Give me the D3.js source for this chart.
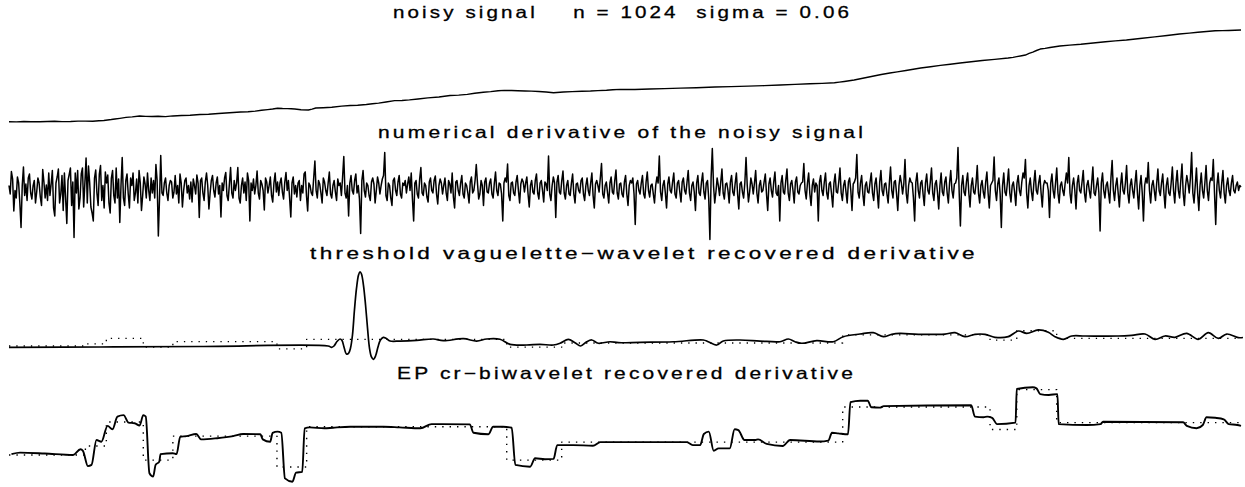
<!DOCTYPE html>
<html><head><meta charset="utf-8">
<script src="https://cdn.jsdelivr.net/npm/d3@7"></script>
<style>body{margin:0;background:#fff}svg{display:block}</style>
</head><body>
<svg id="c" width="1245" height="487"></svg>
<script>
// ---------- data ----------
const titles = [
  "noisy signal    n = 1024  sigma = 0.06",
  "numerical derivative of the noisy signal",
  "threshold vaguelette\u2212wavelet recovered derivative",
  "EP cr\u2212biwavelet recovered derivative"
];

// panel 1: noisy signal (t in [0,1])
const signalT = [0,0.006,0.012,0.018,0.025,0.031,0.037,0.043,0.05,0.056,0.062,0.068,0.073,0.077,0.08,0.083,0.086,0.09,0.095,0.1,0.106,0.111,0.116,0.121,0.127,0.133,0.14,0.147,0.155,0.162,0.17,0.179,0.188,0.194,0.2,0.205,0.21,0.214,0.218,0.222,0.226,0.229,0.232,0.237,0.243,0.246,0.249,0.255,0.262,0.27,0.277,0.283,0.29,0.295,0.3,0.306,0.313,0.319,0.325,0.332,0.34,0.349,0.358,0.365,0.372,0.378,0.385,0.391,0.397,0.402,0.408,0.413,0.419,0.424,0.43,0.436,0.442,0.45,0.457,0.465,0.472,0.478,0.485,0.49,0.496,0.508,0.52,0.532,0.545,0.558,0.573,0.586,0.6,0.613,0.626,0.638,0.65,0.66,0.67,0.674,0.678,0.682,0.686,0.693,0.7,0.708,0.715,0.721,0.728,0.734,0.74,0.748,0.756,0.764,0.772,0.781,0.79,0.8,0.811,0.815,0.818,0.822,0.825,0.828,0.831,0.834,0.837,0.841,0.845,0.849,0.853,0.861,0.87,0.88,0.89,0.898,0.907,0.918,0.93,0.94,0.95,0.958,0.965,0.972,0.979,0.985,0.99,0.995,1.0];
const signalV = [0.003,0.001,0.006,0.003,0.002,0.006,0.008,0.004,0.005,0.009,0.01,0.008,0.014,0.017,0.022,0.027,0.033,0.04,0.05,0.056,0.065,0.061,0.06,0.063,0.058,0.066,0.07,0.074,0.082,0.085,0.092,0.1,0.109,0.112,0.118,0.128,0.135,0.141,0.149,0.146,0.145,0.144,0.141,0.133,0.13,0.14,0.152,0.155,0.16,0.172,0.179,0.182,0.19,0.198,0.205,0.217,0.232,0.234,0.24,0.25,0.262,0.272,0.288,0.292,0.3,0.312,0.323,0.33,0.34,0.344,0.342,0.339,0.337,0.336,0.332,0.326,0.318,0.326,0.33,0.335,0.337,0.341,0.345,0.35,0.355,0.353,0.358,0.363,0.368,0.372,0.38,0.384,0.39,0.395,0.402,0.409,0.415,0.42,0.427,0.433,0.44,0.448,0.457,0.476,0.495,0.516,0.533,0.545,0.56,0.574,0.587,0.6,0.615,0.628,0.641,0.655,0.668,0.681,0.696,0.703,0.71,0.72,0.728,0.745,0.76,0.777,0.793,0.8,0.81,0.818,0.826,0.836,0.845,0.858,0.872,0.882,0.891,0.908,0.925,0.94,0.957,0.966,0.975,0.983,0.992,0.993,0.995,0.998,1.0];

// panel 2: numerical derivative of the noisy signal (1024 equally spaced samples)
const derivNoisy = [
0.05,-0.12,0.33,0.18,-0.46,-0.05,-0.2,0.22,0.1,-0.3,-0.79,0.05,0.42,-0.15,0.08,-0.25,0.2,0.28,-0.1,-0.22,0.04,0.15,-0.3,-0.08,0.2,0.1,-0.18,-0.35,0.37,0.12,-0.2,0.06,
-0.25,0.3,-0.15,0.08,0.35,-0.4,-0.56,0.1,0.22,0.38,-0.3,-0.12,0.25,-0.45,0.3,-0.2,-0.71,0.15,0.27,0.4,-0.35,0.12,-0.99,0.3,-0.1,0.35,-0.42,-0.2,0.28,0.4,-0.38,0.1,
0.6,-0.3,0.44,0.1,-0.38,-0.5,-0.66,0.2,0.36,-0.1,-0.35,0.28,0.45,-0.25,0.05,-0.4,0.32,0.1,0.26,-0.3,-0.5,0.2,0.35,-0.15,-0.3,0.4,-0.2,0.18,-0.69,0.05,0.61,-0.2,
-0.35,0.15,0.28,-0.12,-0.4,0.2,0.05,0.3,-0.25,-0.1,0.18,-0.3,0.35,0.1,-0.45,-0.15,0.22,0.08,-0.2,0.3,-0.05,-0.25,0.2,-0.1,0.15,-0.2,0.47,0.15,-0.96,-0.2,0.65,-0.1,
-0.15,0.1,0.2,-0.1,-0.25,0.05,0.15,0.12,-0.2,-0.08,0.25,-0.12,0.05,-0.3,0.28,0.1,-0.38,-0.05,0.15,0.2,-0.1,0.05,-0.22,0.12,-0.28,0.18,0.05,-0.12,0.26,0.1,-0.59,0.15,
0.2,-0.1,-0.25,0.12,0.3,0.05,-0.42,-0.1,0.15,0.25,-0.05,-0.18,0.1,0.22,-0.12,0.05,-0.58,0.1,-0.05,0.2,0.31,-0.15,-0.25,0.08,0.41,-0.1,-0.2,0.15,-0.05,0.1,0.41,-0.2,
-0.3,0.05,0.2,-0.1,0.12,-0.25,0.3,0.15,-0.66,0.1,-0.05,0.18,-0.12,0.05,0.34,-0.1,-0.22,0.15,0.08,-0.05,-0.44,0.2,0.12,-0.1,0.05,0.22,-0.15,-0.28,0.1,0.3,-0.08,0.12,
-0.15,0.1,0.2,-0.08,-0.22,0.12,0.31,-0.05,0.15,-0.2,-0.58,0.1,0.22,-0.12,0.05,-0.18,0.1,0.15,-0.25,0.05,-0.1,0.28,0.32,-0.15,-0.46,0.1,0.05,-0.1,-0.15,0.2,0.54,-0.05,
-0.2,0.15,0.08,-0.1,-0.3,0.2,0.12,-0.05,-0.15,0.1,0.32,-0.12,-0.2,0.05,0.15,-0.08,-0.25,0.18,0.05,0.1,-0.15,0.22,0.63,-0.1,-0.2,0.05,-0.56,0.1,0.25,-0.05,-0.12,0.15,
0.28,-0.1,0.05,-0.22,-0.91,0.15,0.35,-0.05,-0.18,0.1,0.05,-0.15,-0.25,0.12,0.2,0.08,-0.3,-0.05,0.22,0.1,-0.12,0.05,0.18,0.25,0.71,-0.15,-0.25,0.1,0.05,-0.2,-0.35,0.15,
0.2,-0.05,-0.15,0.12,0.25,-0.12,-0.2,0.1,0.05,0.15,-0.1,0.08,0.22,-0.05,0.3,-0.22,-0.66,0.1,0.15,-0.12,-0.2,0.18,0.41,-0.1,-0.15,0.1,0.05,-0.18,-0.28,0.12,0.2,-0.05,
-0.1,0.15,0.24,-0.12,-0.32,0.05,0.18,0.1,-0.12,0.05,0.2,-0.1,-0.25,0.15,0.08,-0.1,0.3,-0.18,-0.4,0.12,0.15,-0.05,-0.15,0.1,0.25,-0.12,-0.2,0.1,0.05,-0.1,-0.3,0.12,
0.22,-0.1,-0.05,0.15,0.47,0.1,-0.22,-0.12,0.15,0.05,-0.35,0.12,0.2,-0.08,-0.1,0.1,0.18,-0.12,-0.2,0.1,0.32,-0.05,-0.15,0.1,0.08,-0.12,-0.66,0.1,0.2,0.12,0.48,-0.15,
-0.25,0.1,0.12,-0.1,-0.15,0.12,0.25,-0.05,-0.3,0.08,0.18,0.12,-0.08,0.1,0.22,-0.12,-0.38,0.05,0.15,-0.08,-0.12,0.15,0.28,-0.1,-0.22,0.1,0.15,-0.05,-0.28,0.12,0.08,-0.05,
0.64,-0.12,-0.25,0.05,0.22,0.1,-0.59,0.12,0.25,-0.08,-0.12,0.15,0.34,-0.1,-0.22,0.05,0.15,-0.12,-0.15,0.1,0.28,-0.12,-0.3,0.08,0.1,-0.05,-0.1,0.15,0.2,-0.12,-0.25,0.05,
0.2,-0.05,-0.15,0.1,0.3,-0.15,-0.4,0.08,0.15,0.05,-0.08,0.2,0.49,-0.12,-0.2,0.05,0.12,-0.1,-0.3,0.1,0.22,-0.08,-0.12,0.15,0.36,-0.1,-0.22,0.08,0.1,-0.12,-0.18,0.12,
0.25,-0.12,-0.35,0.05,0.15,0.1,0.2,-0.12,-0.73,0.08,0.15,-0.05,-0.12,0.1,0.25,-0.12,-0.2,0.12,0.32,-0.05,-0.18,0.05,0.08,-0.12,-0.3,0.05,0.22,0.1,0.64,-0.08,-0.25,0.05,
0.15,-0.1,-0.4,0.08,0.22,-0.05,-0.1,0.12,0.3,-0.12,-0.2,0.1,0.15,-0.08,-0.28,0.12,0.2,-0.05,-0.12,0.12,0.35,-0.1,-0.25,0.05,0.12,-0.08,-0.45,0.1,0.25,-0.1,-0.15,0.12,
0.3,-0.08,-0.22,0.1,0.15,-0.2,-1.03,0.2,0.79,0.05,-0.3,-0.08,0.2,0.05,-0.15,0.12,0.38,-0.1,-0.22,0.08,0.1,-0.05,-0.3,0.12,0.25,-0.08,-0.15,0.1,0.3,-0.12,-0.42,0.08,
0.12,-0.08,-0.2,0.1,0.61,0.05,-0.28,-0.08,0.2,0.08,-0.12,0.1,0.35,-0.1,-0.3,0.05,0.15,-0.08,-0.05,0.12,0.28,-0.12,-0.45,0.08,0.2,-0.05,-0.18,0.12,0.32,-0.1,-0.15,0.05,
-0.66,0.1,0.25,-0.08,-0.12,0.15,0.38,-0.1,-0.25,0.08,0.15,-0.05,-0.3,0.12,0.22,-0.08,-0.12,0.05,0.1,0.12,0.49,-0.05,-0.22,0.1,0.3,-0.12,-0.35,0.05,0.18,-0.08,0.1,0.05,
-0.66,0.12,0.25,-0.05,-0.15,0.12,0.3,-0.1,-0.22,0.08,0.12,-0.12,-0.38,0.1,0.28,-0.08,-0.1,0.12,0.4,-0.1,-0.25,0.05,0.15,-0.08,-0.3,0.12,0.2,-0.05,-0.45,0.08,0.12,0.2,
0.67,-0.08,-0.2,0.1,0.25,-0.12,-0.35,0.05,0.12,-0.08,-0.1,0.12,0.3,-0.1,-0.25,0.08,0.2,-0.1,-0.4,0.12,0.35,-0.05,-0.15,0.08,0.1,-0.12,-0.3,0.1,0.42,-0.05,-0.2,0.12,
0.15,-0.12,-0.45,0.05,0.25,0.1,-0.12,0.08,0.57,-0.1,-0.3,0.05,0.2,0.12,0.1,-0.2,-0.66,0.12,0.3,-0.05,-0.2,0.1,0.15,-0.12,-0.35,0.1,0.28,-0.05,-0.12,0.12,0.4,-0.1,
-0.25,0.08,0.15,-0.1,-0.42,0.05,0.3,-0.08,-0.15,0.12,0.22,-0.1,-0.3,0.1,0.35,-0.05,-0.2,0.08,0.1,0.2,0.81,-0.1,-0.76,0.05,0.25,-0.08,-0.15,0.12,0.3,-0.1,-0.38,0.05,
0.2,-0.08,-0.12,0.1,0.45,-0.1,-0.3,0.05,0.15,-0.08,-0.2,0.12,0.32,-0.1,-0.4,0.05,0.1,0.15,0.62,-0.05,-0.25,0.08,0.2,-0.12,-0.79,0.05,0.3,-0.08,-0.15,0.1,0.38,-0.1,
-0.28,0.05,0.12,-0.08,-0.35,0.1,0.25,-0.05,-0.15,0.12,0.3,0.2,0.57,-0.1,-0.4,0.05,0.2,-0.08,-0.25,0.1,0.35,-0.05,-0.12,0.1,0.25,-0.1,-0.38,0.05,0.15,0.1,0.1,-0.05,
-0.59,0.1,0.28,-0.05,-0.2,0.1,0.4,-0.1,-0.3,0.05,0.12,-0.05,-0.15,0.1,0.3,0.1,0.61,-0.1,-0.3,0.05,0.2,-0.05,-0.42,0.1,0.25,-0.05,-0.1,0.12,0.35,-0.1,-0.28,0.05,
0.15,-0.05,-0.2,0.1,0.42,-0.1,-0.15,0.05,0.2,-0.1,-0.86,0.1,0.3,-0.05,-0.2,0.05,0.12,-0.1,-0.3,0.2,0.55,-0.05,-0.25,0.05,0.2,-0.1,-0.38,0.05,0.3,-0.05,-0.12,0.1,
0.45,-0.1,-0.3,0.05,0.18,-0.05,-0.2,0.1,0.35,-0.1,-0.42,0.05,0.25,-0.1,-0.66,0.05,0.2,0.1,0.51,-0.05,-0.3,0.05,0.15,-0.05,-0.25,0.1,0.38,-0.05,-0.15,0.1,0.28,-0.1,
-0.4,0.05,0.2,-0.1,-0.15,0.1,0.42,-0.05,-0.3,0.1,0.35,-0.05,-0.2,0.15,0.48,-0.1,-0.35,0.05,0.25,0.1,-0.1,0.2,0.71,-0.1,-0.3,0.05,0.4,-0.1,-0.45,0.05,0.3,-0.05,
-0.2,0.1,0.45,-0.05,-0.25,0.1,0.2,0.15,0.57,-0.1,-0.73,0.05,0.3,-0.05,-0.2,0.1,0.35,-0.1,-0.3,0.05,0.2,-0.05,-0.15,0.1,0.25,-0.05,-0.1,0.05,0.12,-0.05,0.05,0.02
];

// panel 3: threshold vaguelette-wavelet recovered derivative
const vagT = [0,0.074,0.155,0.259,0.2619,0.2638,0.2662,0.2687,0.2703,0.2719,0.2739,0.2756,0.2772,0.2788,0.2804,0.2821,0.2837,0.2849,0.2861,0.2877,0.2894,0.291,0.2926,0.2942,0.2957,0.2975,0.2995,0.3015,0.3038,0.306,0.3093,0.3174,0.3309,0.3444,0.3525,0.3688,0.3796,0.3877,0.3985,0.4067,0.4202,0.431,0.4418,0.4473,0.454,0.4594,0.464,0.4689,0.473,0.4783,0.4878,0.4946,0.5122,0.5392,0.5636,0.5676,0.5744,0.5798,0.5933,0.6096,0.6258,0.6326,0.638,0.6434,0.6556,0.6691,0.6772,0.6907,0.7015,0.7097,0.7165,0.7232,0.7381,0.7597,0.7679,0.776,0.7841,0.7922,0.8003,0.8111,0.8193,0.8261,0.8355,0.8436,0.849,0.8558,0.8626,0.8734,0.9004,0.9113,0.9221,0.9302,0.9383,0.9464,0.9559,0.9653,0.9735,0.9816,0.9884,0.9978,1.0016];
const vagV = [-0.21,-0.14,-0.07,0,-0.19,0,0.64,1.0,0.79,-0.14,-1.14,-1.07,-0.29,1.57,5.14,8.29,10.14,10.61,10.29,8.71,5.86,2.57,-0.29,-1.57,-1.9,-1.43,-0.14,0.86,1.24,1.11,0.71,0.71,0.81,1.0,0.76,1.04,0.71,1.0,0.96,0.24,0.14,0.24,0.14,0.39,0.96,0.47,0,0.61,0.86,0.39,0.61,0.47,0.53,0.61,0.86,0.61,0.14,0.71,0.86,0.71,0.61,1.0,0.61,0.39,0.76,0.61,1.33,1.71,1.9,1.33,1.67,1.79,1.67,1.71,1.9,1.33,1.67,1.67,1.24,1.33,2.14,1.81,2.29,1.96,1.33,0.96,1.43,1.43,1.43,1.53,1.71,0.96,1.43,1.24,1.81,0.96,1.9,1.1,1.71,1.19,1.21];

// panel 4: EP cr-biwavelet recovered derivative
const biT = [0.002,0.009,0.029,0.052,0.058,0.060,0.064,0.067,0.071,0.075,0.080,0.084,0.088,0.093,0.097,0.102,0.106,0.109,0.111,0.114,0.117,0.119,0.122,0.123,0.133,0.136,0.139,0.144,0.152,0.156,0.169,0.182,0.190,0.204,0.206,0.212,0.214,0.218,0.221,0.224,0.230,0.233,0.238,0.240,0.244,0.256,0.263,0.277,0.304,0.317,0.334,0.343,0.374,0.377,0.389,0.393,0.401,0.408,0.411,0.423,0.427,0.435,0.442,0.445,0.458,0.474,0.480,0.550,0.555,0.561,0.564,0.568,0.572,0.576,0.585,0.589,0.592,0.597,0.606,0.608,0.615,0.628,0.634,0.658,0.665,0.668,0.673,0.681,0.683,0.691,0.697,0.700,0.707,0.710,0.781,0.784,0.791,0.794,0.798,0.802,0.817,0.818,0.831,0.834,0.837,0.844,0.851,0.852,0.875,0.886,0.888,0.953,0.956,0.964,0.969,0.972,0.979,0.986,0.990,0.997,1.000];
const biV = [0.03,0.08,0.05,0.00,0.19,0.14,-0.37,-0.33,0.50,0.44,0.97,0.86,1.28,1.33,1.08,1.06,0.98,1.33,1.28,-0.61,-0.72,-0.33,-0.22,0.03,0.06,0.03,0.61,0.63,0.70,0.52,0.56,0.63,0.70,0.69,0.52,0.44,0.74,0.78,0.74,-0.78,-0.89,-0.59,-0.56,0.89,0.92,0.89,0.91,0.94,0.94,0.92,0.89,1.03,1.02,0.74,0.69,0.94,0.94,0.91,-0.33,-0.39,-0.11,-0.14,-0.13,0.33,0.33,0.31,0.43,0.43,0.33,0.33,0.70,0.78,0.14,0.22,0.22,0.86,0.83,0.50,0.50,0.52,0.37,0.30,0.50,0.45,0.48,0.74,0.72,0.69,1.76,1.81,1.81,1.59,1.58,1.63,1.66,1.28,1.26,1.28,1.24,1.03,1.08,2.20,2.26,2.22,2.03,2.00,2.03,1.03,1.00,1.03,1.11,1.09,0.97,0.89,1.00,1.26,1.24,1.19,1.03,1.00,0.97];

// true derivative (step function), dotted in panels 3 and 4
const trueT = [0,0.062,0.079,0.109,0.133,0.2175,0.2416,0.404,0.4486,0.6767,0.7963,0.818,0.8504,1.0];
const trueV = [0.0,0.3,1.1,-0.17,0.63,-0.4,0.94,-0.17,0.43,1.6,0.85,2.18,1.08,1.08];

// ---------- drawing ----------
const svg = d3.select("#c");
svg.append("rect").attr("width",1245).attr("height",487).attr("fill","#fff");

const x = d3.scaleLinear().domain([0,1]).range([9,1241]);
const y1 = d3.scaleLinear().domain([0,1]).range([122,30]);
const y2 = d3.scaleLinear().domain([-1,1]).range([238,138]);
const y3 = d3.scaleLinear().domain([0,1]).range([346,339]);
const y4 = d3.scaleLinear().domain([0,1]).range([455,425]);

const titleLayout = [
  {x:393, y:18, w:459},
  {x:378, y:138, w:488},
  {x:310, y:259, w:668},
  {x:397, y:379, w:459}
];
titles.forEach((t,i)=>{
  const L = titleLayout[i];
  svg.append("text").attr("x",L.x).attr("y",L.y)
    .attr("textLength",L.w).attr("lengthAdjust","spacingAndGlyphs")
    .attr("font-family","Liberation Sans, Arial, sans-serif")
    .attr("font-size",16.5).attr("letter-spacing",2.5).attr("fill","#000")
    .attr("stroke","#000").attr("stroke-width",0.3)
    .style("white-space","pre")
    .text(t);
});

function draw(T,V,ys,opts){
  const pts = T.map((t,i)=>[t,V[i]]);
  const line = d3.line().x(d=>x(d[0])).y(d=>ys(d[1])).curve(opts.curve||d3.curveLinear);
  svg.append("path").datum(pts).attr("d",line)
    .attr("fill","none").attr("stroke","#000")
    .attr("stroke-width",opts.w).attr("stroke-linejoin","round")
    .attr("stroke-dasharray",opts.dash||null);
}

// panel 1
draw(signalT, signalV, y1, {w:1.4});
// panel 2
const nT = derivNoisy.map((d,i)=>i/(derivNoisy.length-1));
draw(nT, derivNoisy, y2, {w:1.5});
// panel 3
draw(trueT, trueV, y3, {w:1.3, dash:"1.3,6", curve:d3.curveStepAfter});
draw(vagT, vagV, y3, {w:1.7, curve:d3.curveCatmullRom.alpha(0.5)});
// panel 4
draw(trueT, trueV, y4, {w:1.4, dash:"1.4,6", curve:d3.curveStepAfter});
draw(biT, biV, y4, {w:1.9, curve:d3.curveMonotoneX});
</script>
</body></html>
